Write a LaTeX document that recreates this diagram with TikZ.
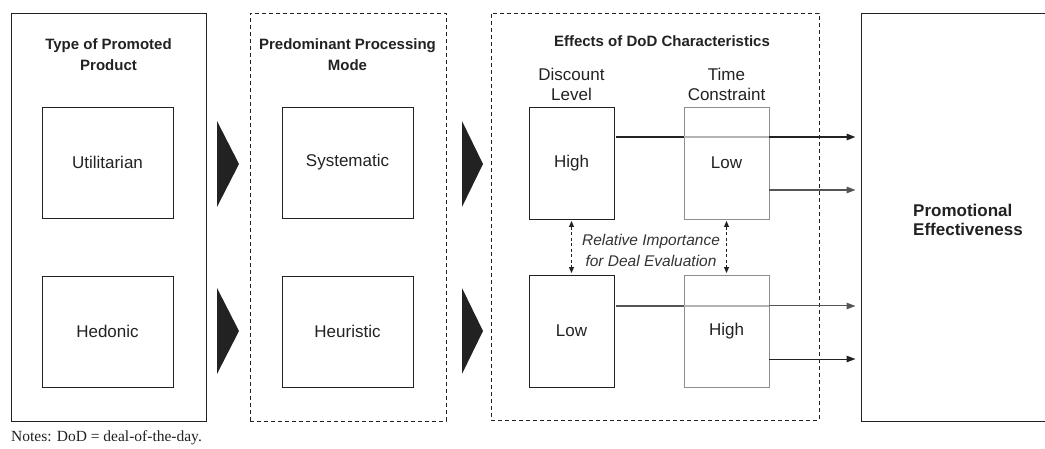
\documentclass[tikz,border=0pt]{standalone}
\usepackage{fontspec}
\setmainfont{Liberation Sans}
\newfontfamily\notefont{Liberation Serif}
\usetikzlibrary{arrows.meta}
\definecolor{ink}{HTML}{222222}
\definecolor{greybox}{HTML}{8E8E8E}
\definecolor{lightline}{HTML}{B4B4B4}
\definecolor{midline}{HTML}{555555}
\definecolor{italictext}{HTML}{333333}
\begin{document}
\begin{tikzpicture}[x=1pt,y=-1pt,
  frame/.style={draw=ink, line width=0.95pt, inner sep=0pt},
  dashframe/.style={draw=ink, line width=0.9pt, dash pattern=on 4pt off 3pt, inner sep=0pt},
  catbox/.style={draw=ink, line width=0.95pt, inner sep=0pt, minimum width=131pt, minimum height=111pt,
     font=\fontsize{17}{20}\selectfont, text=ink},
  dodbox/.style={draw=ink, line width=0.95pt, inner sep=0pt, minimum width=85pt, minimum height=112pt,
     font=\fontsize{17}{20}\selectfont, text=ink},
  greydodbox/.style={dodbox, draw=greybox},
  header/.style={font=\bfseries\fontsize{15}{21}\selectfont, align=center, text=ink, inner sep=0pt},
  sublabel/.style={font=\fontsize{17}{20}\selectfont, align=center, text=ink, inner sep=0pt},
  tip/.style={-{Triangle[length=9pt,width=6.5pt]}, shorten >=5pt},
  dblarrow/.style={{Triangle[length=6pt,width=5pt]}-{Triangle[length=6pt,width=5pt]},
     dash pattern=on 3pt off 2.5pt, line width=0.9pt, draw=ink, shorten <=1.5pt, shorten >=1.5pt},
  chevron/.style={fill=ink}
]
\useasboundingbox (0,0) rectangle (1045,449);
\clip (0,0) rectangle (1045,449);

% outer frames
\node[frame, minimum width=195pt, minimum height=408pt] (typebox) at (108.5,217) {};
\node[dashframe, minimum width=196pt, minimum height=408pt] (modebox) at (348,217) {};
\node[dashframe, minimum width=328pt, minimum height=407pt] (effbox) at (655,216.5) {};
\node[frame, minimum width=199pt, minimum height=408pt] (pe) at (960.5,217) {};

% headers
\node[header] (h1) at (108.5,55) {Type of Promoted\\Product};
\node[header] (h2) at (347.5,55) {Predominant Processing\\Mode};
\node[header] (h3) at (662,41) {Effects of DoD Characteristics};
\node[font=\bfseries\fontsize{17}{19.5}\selectfont, align=left, text=ink, inner sep=0pt, anchor=west] (pelabel) at (913,220) {Promotional\\Effectiveness};

% category boxes
\node[catbox] (util) at (107.5,162.5) {Utilitarian};
\node[catbox] (hed) at (107.5,331.5) {Hedonic};
\node[catbox] (sys) at (347.5,162.5) {Systematic};
\node[catbox] (heu) at (347.5,331.5) {Heuristic};

% chevrons
\fill[chevron] (217,121) -- (239,164) -- (217,207) -- cycle;
\fill[chevron] (217,288) -- (239,331) -- (217,374) -- cycle;
\fill[chevron] (462,121) -- (483,164) -- (462,207) -- cycle;
\fill[chevron] (462,288) -- (483,331) -- (462,374) -- cycle;

% DoD sub labels
\node[sublabel] (dl) at (571.5,84) {Discount\\Level};
\node[sublabel] (tc) at (726.5,84) {Time\\Constraint};

% DoD boxes
\node[dodbox] (hi) at (571.5,163) {High};
\node[greydodbox] (tlow) at (726.5,163) {Low};
\node[dodbox] (lo) at (571.5,331) {Low};
\node[greydodbox] (thigh) at (726.5,331) {High};

% row coordinates
\coordinate (r1) at (856,137);
\coordinate (r2) at (856,190);
\coordinate (r3) at (856,306);
\coordinate (r4) at (856,359);

% connectors, top row
\draw[ink, line width=1.5pt] ([xshift=2pt]hi.east |- r1) -- (tlow.west |- r1);
\draw[lightline, line width=1.3pt] (tlow.west |- r1) -- (tlow.east |- r1);
\draw[ink, line width=1.5pt, tip] (tlow.east |- r1) -- (pe.west |- r1);
\draw[midline, line width=1.2pt, tip] (tlow.east |- r2) -- (pe.west |- r2);

% connectors, bottom row
\draw[midline, line width=1.3pt] ([xshift=2pt]lo.east |- r3) -- (thigh.west |- r3);
\draw[lightline, line width=1.1pt] (thigh.west |- r3) -- (thigh.east |- r3);
\draw[midline, line width=1pt, tip] (thigh.east |- r3) -- (pe.west |- r3);
\draw[ink, line width=1pt, tip] (thigh.east |- r4) -- (pe.west |- r4);

% relative importance
\draw[dblarrow] (hi.south) -- (lo.north);
\draw[dblarrow] (tlow.south) -- (thigh.north);
\node[font=\itshape\fontsize{15.5}{21}\selectfont, align=center, text=italictext, inner sep=0pt] (rel) at (651,250) {Relative Importance\\for Deal Evaluation};

% notes
\node[font=\notefont\fontsize{15.5}{18}\selectfont, text=ink, anchor=base west, inner sep=0pt] (notes) at (11,441) {Notes: DoD = deal-of-the-day.};
\end{tikzpicture}
\end{document}
